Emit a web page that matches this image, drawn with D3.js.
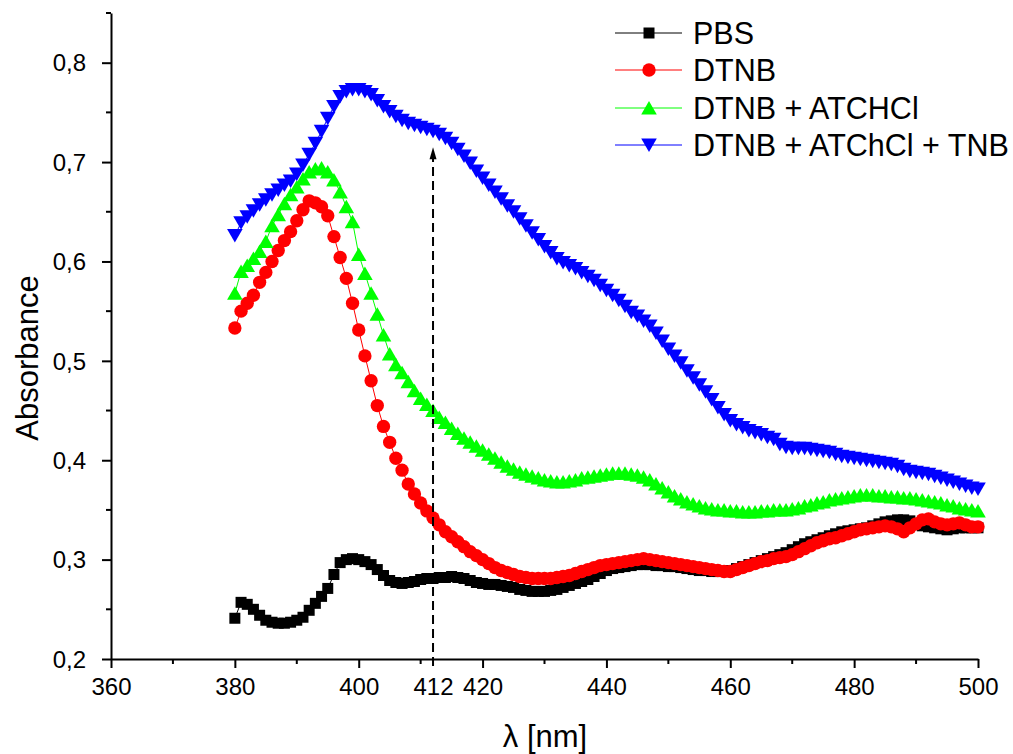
<!DOCTYPE html>
<html>
<head>
<meta charset="utf-8">
<script src="https://cdn.jsdelivr.net/npm/d3@7.9.0/dist/d3.min.js"></script>
<style>
  html, body { margin: 0; padding: 0; background: #fff; }
  svg { display: block; font-family: "Liberation Sans", Arial, sans-serif; }
</style>
</head>
<body>
<svg id="chart" width="1013" height="754"></svg>
<script>
// ---------- Data ----------
const wavelengths = d3.range(380, 501); // 1 nm steps, 380..500

const pbs = [
  0.241, 0.257, 0.255, 0.250, 0.244, 0.239, 0.237, 0.236, 0.236, 0.237,
  0.239, 0.242, 0.249, 0.256, 0.263, 0.271, 0.285, 0.297, 0.300, 0.301,
  0.300, 0.298, 0.295, 0.290, 0.284, 0.279, 0.277, 0.276, 0.277, 0.278,
  0.280, 0.281, 0.281, 0.282, 0.282, 0.283, 0.282, 0.281, 0.279, 0.277,
  0.276, 0.275, 0.275, 0.274, 0.273, 0.272, 0.270, 0.269, 0.268, 0.268,
  0.268, 0.269, 0.270, 0.272, 0.274, 0.276, 0.278, 0.280, 0.283, 0.286,
  0.289, 0.291, 0.292, 0.293, 0.294, 0.295, 0.295, 0.295, 0.294, 0.294,
  0.293, 0.293, 0.292, 0.291, 0.290, 0.289, 0.289, 0.288, 0.288, 0.288,
  0.289, 0.291, 0.293, 0.295, 0.297, 0.299, 0.301, 0.303, 0.305, 0.307,
  0.310, 0.313, 0.316, 0.318, 0.320, 0.322, 0.324, 0.326, 0.328, 0.329,
  0.330, 0.331, 0.332, 0.334, 0.336, 0.338, 0.339, 0.340, 0.340, 0.339,
  0.336, 0.334, 0.333, 0.332, 0.331, 0.330, 0.331, 0.332, 0.332, 0.332,
  0.332
];

const dtnb = [
  0.533, 0.550, 0.558, 0.566, 0.579, 0.589, 0.600, 0.611, 0.621, 0.630,
  0.641, 0.652, 0.661, 0.659, 0.655, 0.646, 0.625, 0.604, 0.583, 0.558,
  0.531, 0.505, 0.480, 0.455, 0.434, 0.418, 0.402, 0.390, 0.376, 0.366,
  0.357, 0.349, 0.342, 0.335, 0.328, 0.323, 0.318, 0.313, 0.308, 0.304,
  0.300, 0.296, 0.292, 0.289, 0.287, 0.285, 0.283, 0.282, 0.281, 0.281,
  0.281, 0.281, 0.282, 0.283, 0.284, 0.286, 0.288, 0.290, 0.292, 0.294,
  0.295, 0.296, 0.297, 0.298, 0.299, 0.300, 0.301, 0.300, 0.299, 0.298,
  0.297, 0.296, 0.295, 0.294, 0.293, 0.292, 0.291, 0.290, 0.289, 0.288,
  0.288, 0.290, 0.292, 0.294, 0.296, 0.298, 0.299, 0.301, 0.302, 0.303,
  0.305, 0.308, 0.311, 0.314, 0.317, 0.319, 0.321, 0.322, 0.324, 0.326,
  0.328, 0.330, 0.331, 0.332, 0.333, 0.334, 0.333, 0.331, 0.328, 0.332,
  0.336, 0.340, 0.341, 0.338, 0.336, 0.335, 0.336, 0.337, 0.335, 0.333,
  0.333
];

const dtnbAtch = [
  0.568, 0.590, 0.596, 0.603, 0.610, 0.620, 0.636, 0.647, 0.658, 0.667,
  0.675, 0.683, 0.690, 0.693, 0.694, 0.690, 0.682, 0.670, 0.655, 0.640,
  0.607, 0.588, 0.568, 0.547, 0.526, 0.507, 0.496, 0.488, 0.479, 0.470,
  0.462, 0.456, 0.450, 0.443, 0.438, 0.432, 0.427, 0.422, 0.418, 0.414,
  0.410, 0.406, 0.402, 0.398, 0.394, 0.391, 0.388, 0.386, 0.384, 0.382,
  0.380, 0.379, 0.378, 0.378, 0.379, 0.380, 0.382, 0.383, 0.384, 0.385,
  0.386, 0.387, 0.387, 0.387, 0.386, 0.385, 0.383, 0.380, 0.376, 0.372,
  0.368, 0.364, 0.361, 0.358, 0.356, 0.354, 0.352, 0.351, 0.350, 0.350,
  0.349, 0.349, 0.348, 0.348, 0.348, 0.349, 0.349, 0.350, 0.350, 0.350,
  0.351, 0.352, 0.354, 0.355, 0.357, 0.358, 0.360, 0.361, 0.362, 0.363,
  0.364, 0.365, 0.365, 0.365, 0.364, 0.364, 0.363, 0.363, 0.362, 0.362,
  0.361, 0.360, 0.359, 0.358, 0.357, 0.355, 0.354, 0.352, 0.351, 0.350,
  0.349
];

const dtnbAtchTnb = [
  0.626, 0.639, 0.645, 0.651, 0.657, 0.662, 0.667, 0.672, 0.677, 0.681,
  0.688, 0.697, 0.708, 0.719, 0.731, 0.744, 0.756, 0.766, 0.771, 0.773,
  0.773, 0.771, 0.768, 0.762, 0.756, 0.751, 0.746, 0.742, 0.739, 0.737,
  0.735, 0.733, 0.731, 0.728, 0.724, 0.719, 0.713, 0.706, 0.699, 0.691,
  0.684, 0.677, 0.670, 0.663, 0.656, 0.650, 0.643, 0.636, 0.629, 0.622,
  0.615, 0.609, 0.603, 0.599, 0.596, 0.593, 0.589, 0.585, 0.581, 0.576,
  0.571, 0.566, 0.561, 0.555, 0.549, 0.545, 0.540, 0.535, 0.528, 0.520,
  0.512, 0.505, 0.498, 0.490, 0.483, 0.476, 0.469, 0.461, 0.453, 0.446,
  0.440, 0.436, 0.433, 0.430, 0.428, 0.426, 0.423, 0.421, 0.416, 0.413,
  0.412, 0.412, 0.412, 0.411, 0.410, 0.409, 0.408, 0.406, 0.404, 0.403,
  0.402, 0.401, 0.400, 0.399, 0.398, 0.397, 0.396, 0.394, 0.391, 0.389,
  0.388, 0.387, 0.386, 0.384, 0.382, 0.380, 0.378, 0.376, 0.374, 0.372,
  0.371
];

const seriesNames = ["PBS", "DTNB", "DTNB + ATCHCl", "DTNB + ATChCl + TNB"];
const seriesColors = ["#000000", "#ff0000", "#00ff00", "#0000ff"];
const seriesMarkers = ["square", "circle", "triangleUp", "triangleDown"];

const xTicks = [360, 380, 400, 412, 420, 440, 460, 480, 500];
const xMinorTicks = [370, 390, 410, 430, 450, 470, 490];
const yTicks = [0.2, 0.3, 0.4, 0.5, 0.6, 0.7, 0.8];
const yMinorTicks = [0.25, 0.35, 0.45, 0.55, 0.65, 0.75, 0.85];
const markerWavelength = 412;
const markerArrowTop = 0.715;

// ---------- Setup ----------
const svg = d3.select("#chart");
const font = '"Liberation Sans", Arial, sans-serif';

const xScale = d3.scaleLinear().domain([360, 500]).range([111, 978]);
const yScale = d3.scaleLinear().domain([0.2, 0.85]).range([659, 13]);

const series = seriesNames.map((name, i) => ({
  name,
  color: seriesColors[i],
  marker: seriesMarkers[i],
  values: [pbs, dtnb, dtnbAtch, dtnbAtchTnb][i].map((v, j) => ({ x: wavelengths[j], y: v })),
}));

// marker paths, centred on 0,0
function markerPath(type) {
  switch (type) {
    case "square": return "M-5.5,-5.5H5.5V5.5H-5.5Z";
    case "circle": return d3.symbol(d3.symbolCircle, 140)();
    case "triangleUp": return "M0,-7L7.8,6.5H-7.8Z";
    case "triangleDown": return "M0,7L7.8,-6.5H-7.8Z";
  }
}

// ---------- Series ----------
const line = d3.line().x((d) => xScale(d.x)).y((d) => yScale(d.y));

const plot = svg.append("g").attr("class", "series");

series.forEach((s) => {
  const g = plot.append("g");
  g.append("path")
    .datum(s.values)
    .attr("d", line)
    .attr("fill", "none")
    .attr("stroke", s.color)
    .attr("stroke-width", 1);

  g.selectAll("path.pt")
    .data(s.values)
    .join("path")
    .attr("class", "pt")
    .attr("d", markerPath(s.marker))
    .attr("transform", (d) => `translate(${xScale(d.x)},${yScale(d.y)})`)
    .attr("fill", s.color);
});

// ---------- Axes ----------
const xAxis = svg.append("g").attr("transform", "translate(0,659)");
xAxis.call(
  d3.axisBottom(xScale).tickValues(xTicks).tickSize(9).tickSizeOuter(0)
    .tickFormat((d) => d)
);
xAxis.selectAll(".tick line").filter((d) => d === markerWavelength).remove();
xAxis.append("g").selectAll("line")
  .data(xMinorTicks)
  .join("line")
  .attr("x1", (d) => xScale(d)).attr("x2", (d) => xScale(d))
  .attr("y1", 0).attr("y2", 5)
  .attr("stroke", "#000").attr("stroke-width", 2);

const yAxis = svg.append("g").attr("transform", "translate(111,0)");
yAxis.call(
  d3.axisLeft(yScale).tickValues(yTicks).tickSize(9).tickSizeOuter(0)
    .tickFormat((d) => d3.format(".1f")(d).replace(".", ","))
);
yAxis.append("g").selectAll("line")
  .data(yMinorTicks)
  .join("line")
  .attr("y1", (d) => yScale(d)).attr("y2", (d) => yScale(d))
  .attr("x1", 0).attr("x2", -5)
  .attr("stroke", "#000").attr("stroke-width", 2);

[xAxis, yAxis].forEach((a) => {
  a.select(".domain").attr("stroke-width", 2);
  a.selectAll(".tick line").attr("stroke-width", 2);
  a.selectAll(".tick text")
    .attr("font-family", font)
    .attr("font-size", 24)
    .attr("fill", "#000");
});
xAxis.selectAll(".tick text").attr("y", 13).attr("dy", "0.95em");
yAxis.selectAll(".tick text").attr("x", -25).attr("dy", "0.34em");

// axis titles
svg.append("text")
  .attr("transform", "translate(38,358) rotate(-90)")
  .attr("text-anchor", "middle")
  .attr("font-family", font)
  .attr("font-size", 31)
  .text("Absorbance");

svg.append("text")
  .attr("x", 545)
  .attr("y", 747)
  .attr("text-anchor", "middle")
  .attr("font-family", font)
  .attr("font-size", 31)
  .text("λ [nm]");

// ---------- Dashed arrow at 412 nm ----------
const ax = xScale(markerWavelength);
const arrowTip = yScale(markerArrowTop);
svg.append("line")
  .attr("x1", ax).attr("x2", ax)
  .attr("y1", 666).attr("y2", arrowTip + 10)
  .attr("stroke", "#000")
  .attr("stroke-width", 2)
  .attr("stroke-dasharray", "9,5");
svg.append("path")
  .attr("d", `M${ax},${arrowTip}L${ax + 3.5},${arrowTip + 12}L${ax - 3.5},${arrowTip + 12}Z`)
  .attr("fill", "#000");

// ---------- Legend ----------
const legend = svg.append("g").attr("class", "legend");
const legendRows = [33, 70, 108, 145];

series.forEach((s, i) => {
  const g = legend.append("g").attr("transform", `translate(0,${legendRows[i]})`);
  g.append("line")
    .attr("x1", 615).attr("x2", 682)
    .attr("stroke", s.color).attr("stroke-width", 1);
  g.append("path")
    .attr("d", markerPath(s.marker))
    .attr("transform", "translate(649,0)")
    .attr("fill", s.color);
  g.append("text")
    .attr("x", 693)
    .attr("y", 0)
    .attr("dy", "0.36em")
    .attr("font-family", font)
    .attr("font-size", 30.5)
    .text(s.name);
});
</script>
</body>
</html>
